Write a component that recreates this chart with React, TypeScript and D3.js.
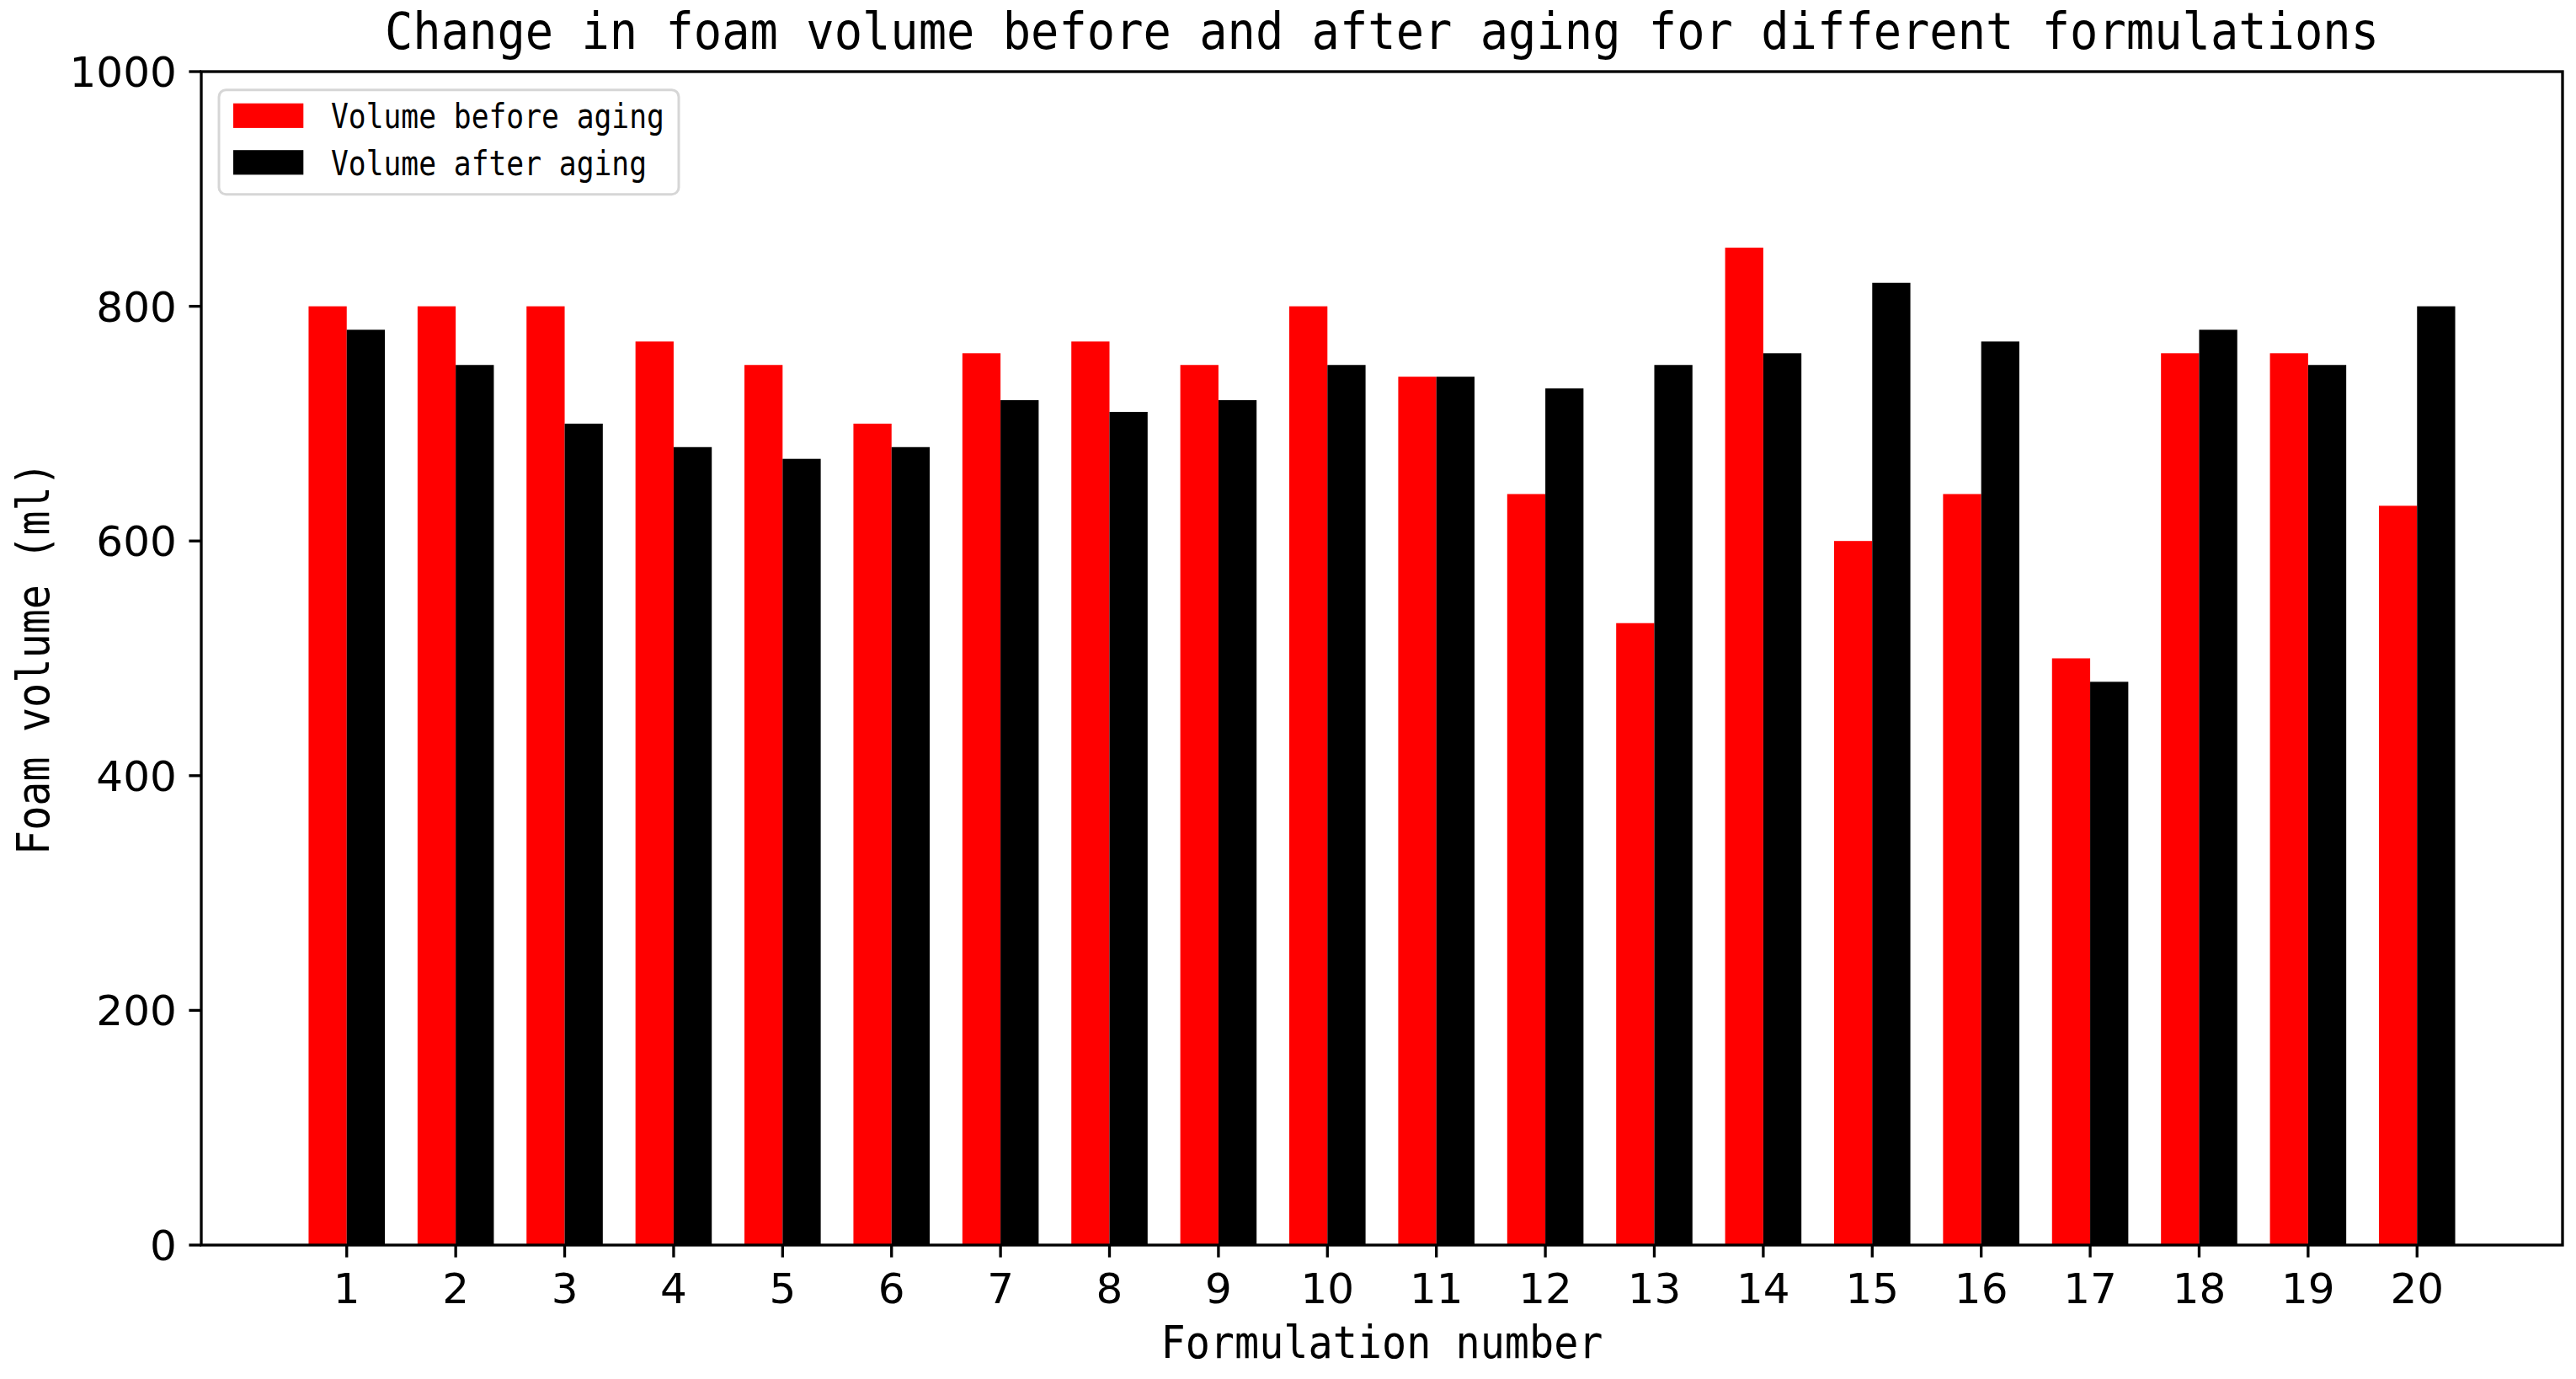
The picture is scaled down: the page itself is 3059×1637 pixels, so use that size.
import React from "react";
import * as d3 from "d3";

const formulations = [1, 2, 3, 4, 5, 6, 7, 8, 9, 10, 11, 12, 13, 14, 15, 16, 17, 18, 19, 20];
const volumeBefore = [800, 800, 800, 770, 750, 700, 760, 770, 750, 800, 740, 640, 530, 850, 600, 640, 500, 760, 760, 630];
const volumeAfter = [780, 750, 700, 680, 670, 680, 720, 710, 720, 750, 740, 730, 750, 760, 820, 770, 480, 780, 750, 800];
const yTicks = [0, 200, 400, 600, 800, 1000];
const seriesNames = ["Volume before aging", "Volume after aging"];
const seriesColors = ["#ff0000", "#000000"];
const titleText = "Change in foam volume before and after aging for different formulations";
const xLabelText = "Formulation number";
const yLabelText = "Foam volume (ml)";

const W = 3059;
const H = 1637;
const left = 239;
const right = 3043;
const top = 85;
const bottom = 1478;
const barW = 0.35;
const mono = "'DejaVu Sans Mono', monospace";
const sans = "'DejaVu Sans', sans-serif";

export default function App() {
  const x = d3.scaleLinear().domain([1 - barW - 0.985, 20 + barW + 0.985]).range([left, right]);
  const y = d3.scaleLinear().domain([0, 1000]).range([bottom, top]);
  const lw = 3.33;
  const tickLen = 14.6;
  const cx = (left + right) / 2;
  const legFs = 41.67;
  const legLeft = 260;
  const legTop = 106.7;
  const rowPitch = 55.5;

  return (
    <svg
      width={W}
      height={H}
      viewBox={`0 0 ${W} ${H}`}
      style={{ position: "absolute", left: 0, top: 0, display: "block", background: "#fff" }}
    >
      <rect x={0} y={0} width={W} height={H} fill="#fff" />
      {/* bars */}
      {formulations.map((f, i) => (
        <g key={f}>
          <rect
            x={x(f - barW)}
            y={y(volumeBefore[i])}
            width={x(f) - x(f - barW)}
            height={y(0) - y(volumeBefore[i])}
            fill={seriesColors[0]}
          />
          <rect
            x={x(f)}
            y={y(volumeAfter[i])}
            width={x(f + barW) - x(f)}
            height={y(0) - y(volumeAfter[i])}
            fill={seriesColors[1]}
          />
        </g>
      ))}
      {/* spines */}
      <rect x={left} y={top} width={right - left} height={bottom - top} fill="none" stroke="#000" strokeWidth={lw} />
      {/* y ticks */}
      {yTicks.map((t) => (
        <g key={t}>
          <line x1={left - tickLen} x2={left} y1={y(t)} y2={y(t)} stroke="#000" strokeWidth={lw} />
          <text x={left - tickLen - 14.6} y={y(t) + 18} textAnchor="end" fontFamily={sans} fontSize={50} fill="#000">
            {t}
          </text>
        </g>
      ))}
      {/* x ticks */}
      {formulations.map((f) => (
        <g key={f}>
          <line x1={x(f)} x2={x(f)} y1={bottom} y2={bottom + tickLen} stroke="#000" strokeWidth={lw} />
          <text x={x(f)} y={1547} textAnchor="middle" fontFamily={sans} fontSize={50} fill="#000">
            {f}
          </text>
        </g>
      ))}
      {/* title */}
      <text
        x={cx}
        y={58}
        textAnchor="middle"
        fontFamily={mono}
        fontSize={60}
        textLength={2368}
        lengthAdjust="spacingAndGlyphs"
        fill="#000"
      >
        {titleText}
      </text>
      {/* x label */}
      <text
        x={cx}
        y={1612}
        textAnchor="middle"
        fontFamily={mono}
        fontSize={54}
        textLength={525}
        lengthAdjust="spacingAndGlyphs"
        fill="#000"
      >
        {xLabelText}
      </text>
      {/* y label */}
      <text
        transform={`translate(58, ${(top + bottom) / 2}) rotate(-90)`}
        textAnchor="middle"
        fontFamily={mono}
        fontSize={54}
        textLength={467}
        lengthAdjust="spacingAndGlyphs"
        fill="#000"
      >
        {yLabelText}
      </text>
      {/* legend */}
      <rect
        x={legLeft}
        y={legTop}
        width={546}
        height={124}
        rx={8.3}
        ry={8.3}
        fill="#fff"
        fillOpacity={0.8}
        stroke="#cccccc"
        strokeOpacity={0.8}
        strokeWidth={3}
      />
      {seriesNames.map((name, i) => (
        <g key={name}>
          <rect x={277} y={122.7 + i * rowPitch} width={83.3} height={29.2} fill={seriesColors[i]} />
          <text
            x={393}
            y={152 + i * rowPitch}
            fontFamily={mono}
            fontSize={40}
            textLength={name.length * legFs * 0.5}
            lengthAdjust="spacingAndGlyphs"
            fill="#000"
          >
            {name}
          </text>
        </g>
      ))}
    </svg>
  );
}
